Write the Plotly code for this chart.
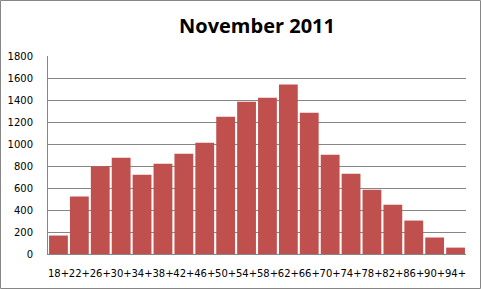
import plotly.graph_objects as go

categories = ["18+", "22+", "26+", "30+", "34+", "38+", "42+", "46+", "50+", "54+",
              "58+", "62+", "66+", "70+", "74+", "78+", "82+", "86+", "90+", "94+"]
values = [168, 522, 798, 876, 721, 821, 912, 1012, 1248, 1384,
          1421, 1540, 1284, 903, 730, 585, 448, 304, 150, 58]
y_ticks = [0, 200, 400, 600, 800, 1000, 1200, 1400, 1600, 1800]

W, H = 481, 289
L, R, T, B = 48, 15, 56, 35
pw, ph = W - L - R, H - T - B

fig = go.Figure(go.Bar(x=categories, y=values, marker=dict(color="#C0504D", line=dict(width=0))))

fig.update_layout(
    width=W, height=H,
    margin=dict(l=L, r=R, t=T, b=B, pad=0, autoexpand=False),
    paper_bgcolor="white", plot_bgcolor="white",
    bargap=0.1,
    showlegend=False,
    title=dict(text="<b>November 2011</b>", x=0.5, xref="paper", y=1 - 26 / H, yanchor="middle",
               font=dict(family="Open Sans, sans-serif", size=20, color="black")),
    xaxis=dict(showgrid=False, showline=True, linecolor="#868686", linewidth=1,
               tickfont=dict(family="DejaVu Sans", size=10, color="black"),
               ticks="", ticklabelstandoff=10, tickangle=0, automargin=False),
    yaxis=dict(range=[0, 1800], tickvals=y_ticks, showgrid=True, gridcolor="#868686", gridwidth=1,
               showline=True, linecolor="#868686", linewidth=1, zeroline=False,
               tickfont=dict(family="DejaVu Sans", size=10, color="black"),
               ticks="", ticklabelstandoff=12, automargin=False),
    shapes=[dict(type="rect", xref="paper", yref="paper",
                 x0=(-L + 0.5) / pw, x1=(pw + R - 0.5) / pw,
                 y0=(-B + 0.5) / ph, y1=(ph + T - 0.5) / ph,
                 line=dict(color="#868686", width=1), layer="above")],
)

fig.write_html("out.html")
